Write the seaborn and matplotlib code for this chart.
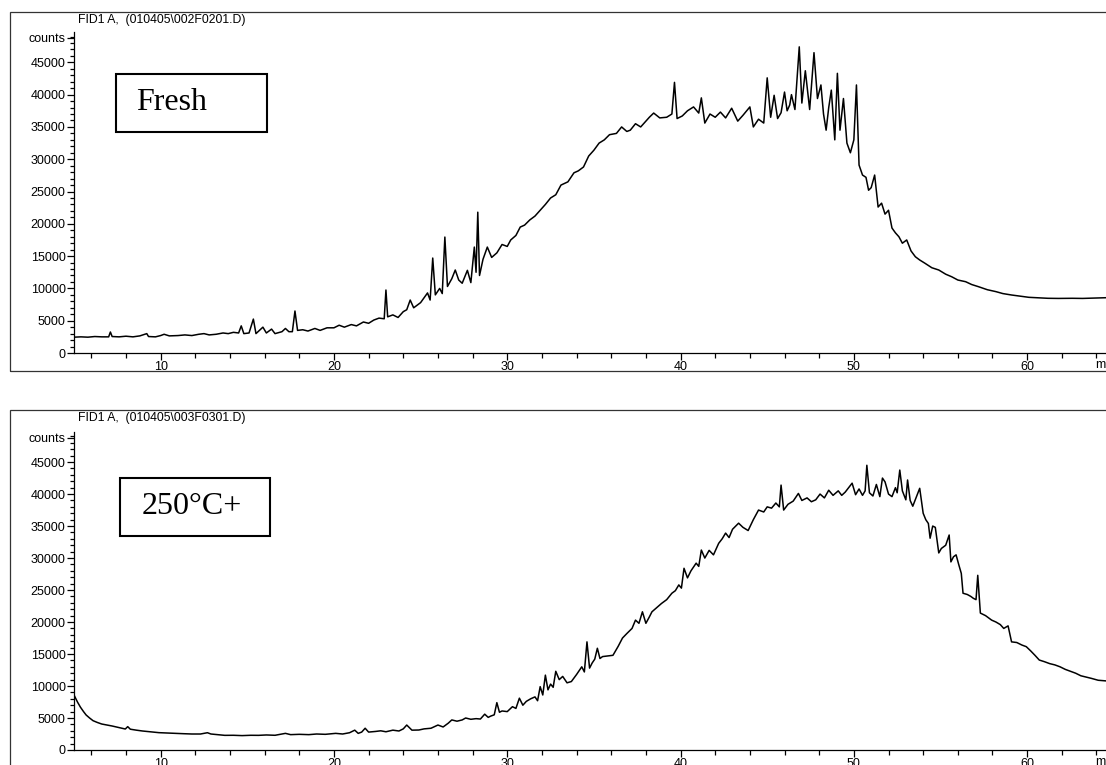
"""
Two FID chromatograms (fresh vs. 250°C+ residue), redrawn in the old
ChemStation print style: boxed panels, "counts" axis, no right/top spines.
"""
import matplotlib
matplotlib.use("Agg")
import matplotlib.pyplot as plt
import matplotlib.ticker as mticker
from matplotlib.patches import Rectangle
import seaborn as sns

# ── Data (retention time in min, detector counts) ─────────────────────────────
fresh_time = [
    5.0, 5.4, 5.8, 6.2, 6.6, 7.0, 7.1, 7.2, 7.6, 8.0, 8.4, 8.8, 9.2, 9.3, 9.7,
    10.0, 10.2, 10.5, 11.0, 11.4, 11.8, 12.2, 12.5, 12.8, 13.2, 13.6, 13.9,
    14.2, 14.5, 14.65, 14.8, 15.1, 15.35, 15.5, 15.9, 16.1, 16.4, 16.6, 17.0,
    17.2, 17.4, 17.6, 17.75, 17.9, 18.2, 18.5, 18.9, 19.2, 19.6, 20.0, 20.3,
    20.6, 21.0, 21.3, 21.7, 22.0, 22.3, 22.6, 22.9, 23.0, 23.1, 23.4, 23.7,
    24.0, 24.2, 24.4, 24.6, 25.0, 25.4, 25.55, 25.7, 25.85, 26.1, 26.25, 26.4,
    26.55, 26.8, 27.0, 27.2, 27.4, 27.7, 27.9, 28.1, 28.2, 28.3, 28.4, 28.6,
    28.85, 29.1, 29.4, 29.7, 30.0, 30.2, 30.5, 30.75, 31.0, 31.3, 31.6, 31.9,
    32.2, 32.5, 32.8, 33.1, 33.5, 33.85, 34.1, 34.4, 34.7, 35.0, 35.3, 35.6,
    35.9, 36.3, 36.6, 36.9, 37.1, 37.4, 37.7, 37.9, 38.2, 38.45, 38.8, 39.2,
    39.5, 39.65, 39.8, 40.1, 40.4, 40.75, 41.05, 41.2, 41.4, 41.7, 42.0, 42.3,
    42.6, 42.95, 43.3, 43.6, 44.0, 44.2, 44.5, 44.8, 45.0, 45.2, 45.4, 45.6,
    45.8, 46.0, 46.15, 46.3, 46.4, 46.6, 46.85, 47.0, 47.2, 47.45, 47.7, 47.9,
    48.1, 48.25, 48.4, 48.55, 48.7, 48.9, 49.05, 49.2, 49.4, 49.6, 49.8, 50.0,
    50.15, 50.3, 50.5, 50.7, 50.85, 51.0, 51.2, 51.4, 51.6, 51.8, 52.0, 52.2,
    52.4, 52.6, 52.8, 53.05, 53.3, 53.55, 53.8, 54.1, 54.5, 54.9, 55.3, 55.65,
    56.0, 56.45, 56.8, 57.2, 57.7, 58.2, 58.6, 59.1, 59.6, 60.1, 60.6, 61.2,
    61.8, 62.6, 63.2, 63.8, 64.55,
]
fresh_counts = [
    2450, 2500, 2450, 2550, 2500, 2500, 3250, 2550, 2500, 2600, 2500, 2650, 3000, 2550, 2500,
    2700, 2900, 2650, 2700, 2800, 2700, 2900, 3000, 2800, 2900, 3100, 3000,
    3200, 3100, 4200, 3000, 3100, 5250, 3000, 4000, 3100, 3700, 3000, 3300,
    3800, 3300, 3300, 6500, 3500, 3600, 3400, 3800, 3500, 3900, 3900, 4300,
    4000, 4400, 4200, 4800, 4600, 5100, 5400, 5300, 9750, 5600, 5900, 5500,
    6400, 6700, 8200, 7000, 7800, 9300, 8200, 14700, 9000, 10000, 9200, 17950,
    10300, 11500, 12850, 11300, 10800, 12800, 10900, 16400, 12500, 21800, 12000, 14500,
    16400, 14800, 15500, 16800, 16500, 17500, 18200, 19500, 19800, 20600, 21200, 22100,
    23000, 24000, 24500, 26000, 26500, 27900, 28200, 28800, 30500, 31400, 32500, 33000,
    33800, 34000, 35000, 34300, 34500, 35500, 35000, 35600, 36500, 37150, 36400, 36500,
    37000, 41900, 36300, 36700, 37500, 38100, 37150, 39500, 35600, 37000, 36500, 37300,
    36400, 37900, 35900, 36800, 38100, 35000, 36200, 35600, 42600, 36500, 39900, 36300,
    37200, 40400, 37500, 38400, 40000, 37700, 47400, 38700, 43700, 37700, 46500, 39400,
    41500, 37000, 34500, 38000, 40700, 33000, 43300, 34500, 39400, 32500, 31000, 33000,
    41500, 29100, 27550, 27200, 25200, 25600, 27550, 22600, 23200, 21500, 22100, 19350,
    18600, 18000, 17000, 17500, 15800, 14900, 14400, 13900, 13200, 12850, 12200, 11800,
    11300, 11040, 10600, 10260, 9800, 9500, 9200, 8980, 8800, 8620, 8550, 8470,
    8450, 8470, 8450, 8500, 8560,
]

heated_time = [
    5.0, 5.2, 5.37, 5.55, 5.7, 5.9, 6.1, 6.35, 6.6, 6.9, 7.2, 7.6, 7.96, 8.1,
    8.25, 8.6, 8.95, 9.4, 9.9, 10.4, 10.9, 11.3, 11.8, 12.3, 12.7, 12.9, 13.3,
    13.7, 14.2, 14.7, 15.2, 15.65, 16.1, 16.6, 17.2, 17.5, 18.0, 18.55, 19.0,
    19.5, 20.1, 20.5, 20.9, 21.2, 21.4, 21.6, 21.8, 22.0, 22.4, 22.7, 23.0,
    23.4, 23.75, 24.0, 24.2, 24.5, 24.9, 25.2, 25.6, 26.0, 26.3, 26.6, 26.8,
    27.1, 27.4, 27.6, 27.9, 28.2, 28.45, 28.7, 28.9, 29.05, 29.25, 29.4, 29.55,
    29.7, 30.0, 30.3, 30.5, 30.7, 30.9, 31.1, 31.35, 31.6, 31.75, 31.9, 32.05,
    32.2, 32.35, 32.5, 32.65, 32.8, 33.0, 33.2, 33.45, 33.7, 34.0, 34.3, 34.45,
    34.6, 34.75, 34.9, 35.05, 35.2, 35.35, 35.5, 35.8, 36.1, 36.4, 36.65, 36.9,
    37.2, 37.4, 37.6, 37.8, 38.0, 38.2, 38.35, 38.6, 38.9, 39.2, 39.5, 39.7,
    39.9, 40.05, 40.2, 40.4, 40.6, 40.9, 41.05, 41.2, 41.4, 41.65, 41.9, 42.2,
    42.4, 42.6, 42.8, 43.0, 43.35, 43.6, 43.9, 44.2, 44.5, 44.8, 45.0, 45.25,
    45.5, 45.7, 45.8, 45.95, 46.2, 46.5, 46.8, 47.0, 47.3, 47.55, 47.8, 48.05,
    48.3, 48.55, 48.8, 49.1, 49.3, 49.5, 49.7, 49.9, 50.1, 50.3, 50.5, 50.65,
    50.75, 50.9, 51.1, 51.3, 51.5, 51.65, 51.8, 52.0, 52.2, 52.4, 52.5, 52.65,
    52.8, 53.0, 53.1, 53.25, 53.4, 53.6, 53.8, 54.0, 54.15, 54.3, 54.4, 54.55,
    54.7, 54.9, 55.05, 55.3, 55.5, 55.6, 55.75, 55.9, 56.05, 56.2, 56.3, 56.55,
    56.75, 56.9, 57.05, 57.15, 57.3, 57.6, 57.95, 58.2, 58.45, 58.65, 58.9,
    59.1, 59.4, 59.7, 59.95, 60.2, 60.45, 60.7, 61.0, 61.3, 61.6, 61.9, 62.2,
    62.5, 62.8, 63.1, 63.4, 63.7, 64.1, 64.55,
]
heated_counts = [
    8600, 7500, 6700, 6000, 5470, 5000, 4580, 4300, 4060, 3900, 3750, 3500, 3280, 3650,
    3250, 3100, 2970, 2850, 2710, 2650, 2600, 2550, 2500, 2500, 2700, 2500, 2400,
    2290, 2300, 2250, 2300, 2290, 2350, 2300, 2600, 2400, 2450, 2400, 2500,
    2450, 2600, 2500, 2700, 3100, 2600, 2800, 3400, 2800, 2900, 3000, 2850,
    3100, 2970, 3300, 3900, 3100, 3125, 3300, 3400, 3900, 3600, 4200, 4700,
    4500, 4700, 5000, 4800, 4900, 4840, 5600, 5100, 5300, 5500, 7400, 5900,
    6100, 6000, 6770, 6500, 8100, 7000, 7600, 8000, 8300, 7700, 9900, 8600,
    11700, 9400, 10300, 9800, 12300, 11000, 11500, 10500, 10700, 11800, 13000, 12200,
    16900, 12800, 13600, 14200, 15900, 14300, 14600, 14700, 14800, 16200, 17500, 18200,
    19000, 20300, 19800, 21600, 19800, 20800, 21600, 22200, 22900, 23500, 24500, 24900,
    25800, 25300, 28400, 26900, 28000, 29200, 28700, 31250, 30000, 31200, 30500, 32300,
    33000, 33900, 33200, 34500, 35450, 34800, 34300, 36000, 37500, 37200, 38000, 37800,
    38600, 38000, 41400, 37500, 38400, 38900, 40100, 39000, 39400, 38800, 39100, 40000,
    39400, 40600, 39800, 40500, 39800, 40300, 41000, 41700, 39900, 40800, 39800, 40500,
    44500, 40200, 39700, 41500, 39600, 42500, 41900, 40000, 39600, 41000, 40200, 43750,
    40500, 39100, 42200, 39000, 38100, 39500, 40900, 37000, 36000, 35400, 33100, 35000,
    34800, 30800, 31500, 32000, 33600, 29400, 30200, 30500, 29000, 27600, 24500, 24300,
    24000, 23700, 23500, 27300, 21400, 21000, 20300, 20000, 19600, 19000, 19400,
    16900, 16800, 16400, 16150, 15500, 14800, 14060, 13800, 13500, 13300, 13000, 12600,
    12300, 12000, 11600, 11400, 11200, 10900, 10800,
]

panel_titles = ["FID1 A,  (010405\\002F0201.D)", "FID1 A,  (010405\\003F0301.D)"]
sample_labels = ["Fresh", "250°C+"]
y_ticks = [0, 5000, 10000, 15000, 20000, 25000, 30000, 35000, 40000, 45000]
x_ticks = [10, 20, 30, 40, 50, 60]

# ── Style ─────────────────────────────────────────────────────────────────────
sns.set_style("ticks")
plt.rcParams.update({
    "font.family": ["Liberation Sans", "DejaVu Sans"],
    "font.size": 9,
    "text.color": "black",
    "axes.edgecolor": "black",
    "xtick.color": "black",
    "ytick.color": "black",
    "axes.linewidth": 0.9,
    "xtick.major.width": 0.9,
    "ytick.major.width": 0.9,
    "xtick.minor.width": 0.9,
    "ytick.minor.width": 0.9,
})

W, H = 1106, 765
fig = plt.figure(figsize=(W / 100, H / 100), dpi=100)


def px_box(left, top, right, bottom):
    """Pixel box (from top-left) -> figure fraction [l, b, w, h]."""
    return [left / W, 1 - bottom / H, (right - left) / W, (bottom - top) / H]


def draw_panel(frame, axes_box, title_y, label_box, label_x, t, c, title, label):
    # outer frame of the printout
    fl, ft, fr, fb = frame
    fig.patches.append(Rectangle((fl / W, 1 - fb / H), (fr - fl) / W, (fb - ft) / H,
                                 transform=fig.transFigure, fill=False,
                                 edgecolor="#333333", linewidth=0.9))
    fig.text(78 / W, 1 - title_y / H, title, ha="left", va="center", fontsize=8.8)

    ax = fig.add_axes(px_box(*axes_box))
    sns.lineplot(x=t, y=c, ax=ax, color="black", linewidth=1.1, estimator=None)
    ax.set_xlim(5, 64.55)
    ax.set_ylim(0, 49700)
    sns.despine(ax=ax)
    ax.set_xlabel("")
    ax.set_ylabel("")

    ax.set_yticks(y_ticks + [48800])
    ax.set_yticklabels([str(v) for v in y_ticks] + ["counts"])
    ax.yaxis.set_minor_locator(mticker.MultipleLocator(1000))
    ax.set_xticks(x_ticks)
    ax.set_xticklabels([str(v) for v in x_ticks])
    ax.xaxis.set_minor_locator(mticker.MultipleLocator(2))
    ax.tick_params(axis="y", which="major", length=5, pad=1, labelsize=9)
    ax.tick_params(axis="y", which="minor", length=3)
    ax.tick_params(axis="x", which="major", length=5, pad=1, labelsize=9)
    ax.tick_params(axis="x", which="minor", length=3.5)
    ax.annotate("m", xy=(64.2, 0), xytext=(0, -4.6), textcoords="offset points",
                ha="center", va="top", fontsize=9, annotation_clip=False)

    # sample label box
    bl, bt, br, bb = label_box
    fig.patches.append(Rectangle((bl / W, 1 - bb / H), (br - bl) / W, (bb - bt) / H,
                                 transform=fig.transFigure, fill=False,
                                 edgecolor="black", linewidth=1.5))
    fig.text(label_x / W, 1 - (bt + bb) / 2 / H, label, ha="left", va="center",
             fontsize=23, family=["Liberation Serif", "DejaVu Serif"])
    return ax


draw_panel((10, 12, 1112, 371), (74, 32, 1106, 353), 20,
           (116, 74, 267, 132), 136,
           fresh_time, fresh_counts, panel_titles[0], sample_labels[0])
draw_panel((10, 410, 1112, 780), (74, 432, 1106, 750), 418,
           (120, 478, 270, 536), 142,
           heated_time, heated_counts, panel_titles[1], sample_labels[1])

fig.savefig("out.png", dpi=100)
